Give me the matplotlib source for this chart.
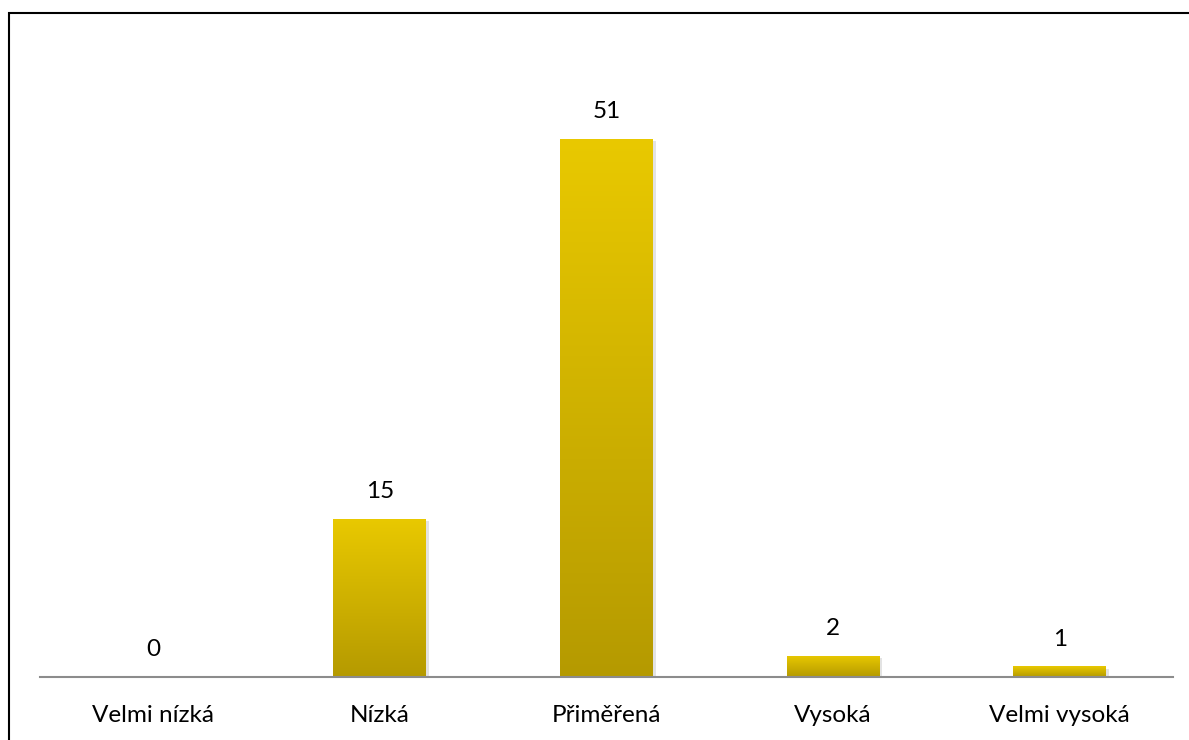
import matplotlib
matplotlib.use("Agg")
import matplotlib.pyplot as plt
import numpy as np
from matplotlib.patches import Rectangle
from matplotlib.colors import LinearSegmentedColormap
import matplotlib.patheffects as pe

categories = ["Velmi nízká", "Nízká", "Přiměřená", "Vysoká", "Velmi vysoká"]
values = [0, 15, 51, 2, 1]

plt.rcParams['font.family'] = ['Lato', 'DejaVu Sans']

W, H = 1189, 740
fig = plt.figure(figsize=(W / 100, H / 100), dpi=100)
left, right = 40 / W, 1173 / W
bottom = 1 - 677 / H
top = 1 - 44 / H
ax = fig.add_axes([left, bottom, right - left, top - bottom])

x = np.arange(len(categories))
bars = ax.bar(x, values, width=0.41, color="#D4B800", zorder=2,
              path_effects=[pe.SimplePatchShadow(offset=(2, -1.5), shadow_rgbFace="#909090", alpha=0.25), pe.Normal()])

cmap = LinearSegmentedColormap.from_list("g", ["#B59A00", "#E9C900"])
grad = np.linspace(0, 1, 256).reshape(-1, 1)
for b in bars:
    h = b.get_height()
    if h <= 0:
        continue
    im = ax.imshow(grad, cmap=cmap, aspect="auto", origin="lower",
                   extent=[b.get_x(), b.get_x() + b.get_width(), 0, h], zorder=3)
    im.set_clip_path(b)

for xi, v in zip(x, values):
    ax.annotate(str(v), (xi, v), xytext=(0, 12), textcoords="offset points",
                ha="center", va="bottom", fontsize=17.5, color="#000000")

ax.set_xlim(-0.5, len(categories) - 0.5)
ax.set_ylim(0, 60)
ax.set_xticks(x)
ax.set_xticklabels(categories, fontsize=17.5)
ax.tick_params(axis="x", length=0, pad=20)
ax.set_yticks([])
for s in ["top", "right", "left"]:
    ax.spines[s].set_visible(False)
ax.spines["bottom"].set_color("#8C8C8C")
ax.spines["bottom"].set_linewidth(1.5)
ax.spines["bottom"].set_zorder(5)

fig.patches.append(Rectangle((9 / W, -0.05), 1.1, 1 - 13 / H + 0.05, transform=fig.transFigure,
                             fill=False, edgecolor="black", linewidth=1.5))

fig.savefig("out.png", dpi=100)
